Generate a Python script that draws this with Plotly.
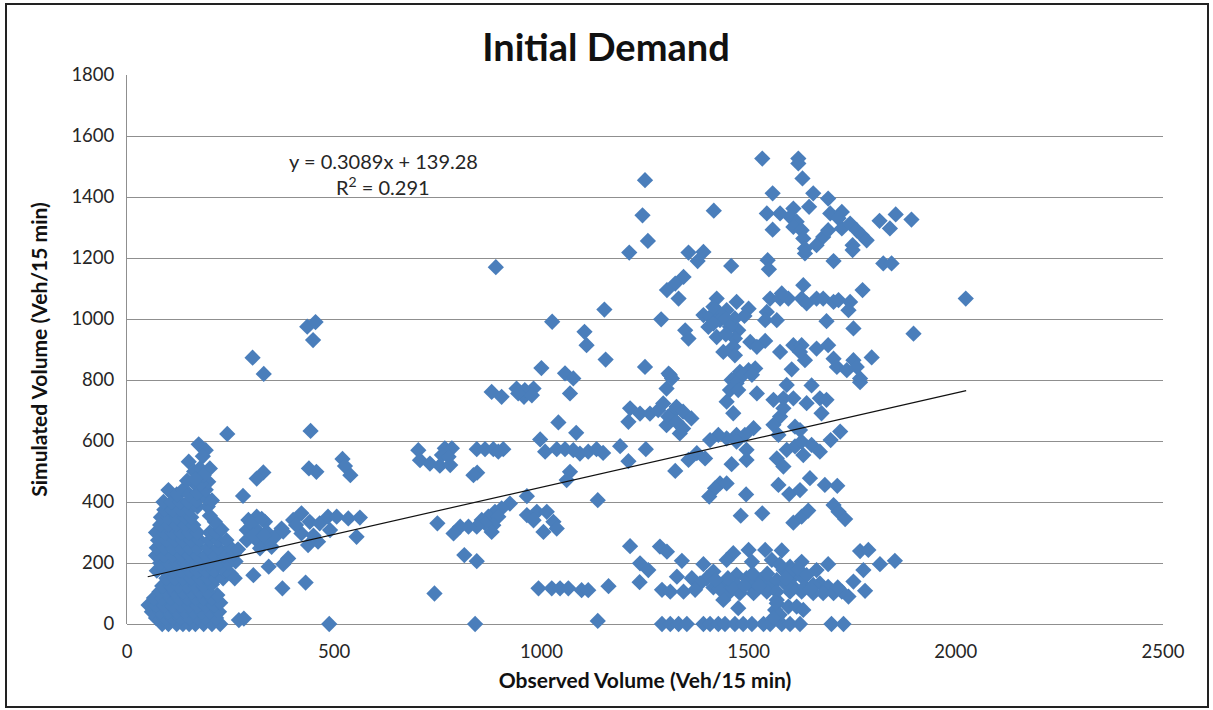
import plotly.graph_objects as go

# Values: (observed, simulated)
left_blob = [
 (85,0),(100,0),(120,0),(135,0),(150,0),(165,0),(185,0),(205,0),(225,0),
 (70,20),(90,20),(110,20),(130,20),(150,20),(170,20),(190,20),(215,20),
 (60,40),(80,40),(100,40),(120,40),(140,40),(160,40),(180,40),(200,40),(222,40),
 (52,62),(70,60),(90,60),(110,60),(130,60),(150,60),(170,60),(190,60),(210,60),(225,70),
 (65,85),(85,85),(105,85),(125,85),(145,85),(165,85),(185,85),(205,85),(218,95),
 (78,105),(95,105),(115,105),(135,105),(155,105),(175,105),(195,105),
 (85,125),(105,125),(125,125),(145,125),(165,125),(185,125),(205,130),
 (95,150),(115,150),(135,150),(155,150),(175,150),(195,150),(215,150),(232,150),
 (72,175),(90,175),(110,175),(130,175),(150,175),(170,175),(190,175),(210,175),(235,175),(250,165),
 (80,200),(100,200),(120,200),(140,200),(160,200),(180,200),(200,200),(220,200),(245,200),(262,205),
 (70,225),(90,225),(110,225),(130,225),(150,225),(170,225),(190,225),(210,225),(235,225),(258,230),
 (72,250),(90,250),(110,250),(130,250),(150,250),(170,250),(195,250),(220,250),(250,250),(268,245),
 (75,275),(95,275),(115,275),(135,275),(155,275),(175,275),(200,275),(220,275),(240,275),
 (70,300),(90,300),(110,300),(130,300),(150,300),(170,300),(200,300),(215,300),(228,310),
 (80,325),(100,325),(120,325),(140,325),(160,325),(212,335),
 (82,350),(100,350),(120,350),(140,350),(155,350),(200,355),
 (90,375),(110,375),(130,375),(150,375),(170,385),(195,385),
 (88,400),(108,400),(128,400),(148,400),(168,405),(190,415),(205,405),
 (100,439),(120,425),(135,440),(150,425),(170,430),(190,440),(196,466),(178,460),(160,465),(145,470),
 (149,532),(162,500),(176,510),(200,510),(185,488),(165,475),(173,589),(190,570),(183,550),
]
left_spread = [
 (303,873),(330,820),(449,931),(435,975),(455,990),(242,623),(443,633),(329,497),(313,477),
 (439,510),(457,499),(520,541),(526,518),(539,488),(280,420),(313,352),(293,341),(333,335),
 (289,308),(313,308),(337,302),(289,275),(313,275),(341,270),(321,248),(349,253),(357,286),
 (300,330),(325,345),(305,290),(330,290),(421,363),(401,341),(441,335),(465,330),(485,352),
 (506,352),(534,346),(562,349),(554,286),(437,259),(461,270),(421,297),(490,308),(373,313),
 (377,303),(389,215),(377,196),(342,188),(305,160),(375,117),(431,136),(488,0),(270,13),
 (282,18),(260,150),(408,325),(450,290),
]
middle = [
 (1152,1031),(1026,991),(1289,999),(1104,958),(1109,914),(1155,867),(1000,839),(1250,843),
 (1057,822),(1077,805),(1069,756),(880,761),(904,745),(890,1170),(940,772),(958,745),(981,772),
 (960,767),(944,756),(977,750),(1041,661),(1084,627),(997,605),(703,570),(767,576),(784,576),
 (844,573),(864,573),(884,573),(908,573),(896,565),(707,537),(731,526),(755,519),(780,521),
 (760,554),(776,548),(845,496),(836,488),(1009,565),(1037,573),(1057,573),(1077,570),(1093,559),
 (1113,565),(1133,573),(1149,561),(1190,583),(1252,573),(1210,534),(1069,499),(1061,472),
 (965,419),(1136,406),(924,395),(904,379),(888,368),(872,352),(856,341),(896,352),(884,324),
 (880,302),(864,330),(844,319),(824,319),(804,319),(788,297),(749,330),(965,357),(989,368),
 (1013,368),(1029,335),(1037,313),(1005,302),(981,340),(814,226),(844,206),(742,100),(840,0),
 (1136,10),(993,117),(1025,117),(1045,117),(1065,117),(1097,111),(1113,111),(1162,124),(1214,255),
 (1214,707),(1210,663),(1238,690),(1262,690),(1282,701),(1294,723),(1302,772),(1310,816),(1302,652),
 (1314,690),(1326,712),(1342,696),(1362,674),(1334,625),(1342,641),(1306,680),(1326,663),
]
upper = [
 (1533,1526),(1620,1526),(1620,1510),(1250,1455),(1630,1461),(1558,1412),(1656,1412),(1692,1395),
 (1646,1368),(1244,1340),(1416,1355),(1544,1346),(1576,1346),(1608,1362),(1600,1335),(1616,1319),
 (1608,1302),(1628,1291),(1558,1293),(1632,1264),(1636,1231),(1636,1215),(1664,1242),(1680,1269),
 (1692,1291),(1697,1346),(1725,1351),(1717,1330),(1725,1297),(1745,1313),(1761,1291),(1773,1275),
 (1785,1258),(1751,1242),(1751,1226),(1816,1322),(1855,1343),(1893,1326),(1841,1297),(1257,1256),
 (1212,1218),(1355,1218),(1391,1220),(1377,1190),(1458,1174),(1546,1193),(1549,1163),(1705,1190),
 (1825,1182),(1845,1182),(1343,1138),(1323,1116),(1303,1095),(1331,1067),(2024,1067),(1775,1095),
 (1632,1111),(1552,1067),(1576,1067),(1596,1067),(1580,1084),(1628,1067),(1640,1051),(1664,1067),
 (1680,1067),(1705,1056),(1717,1062),(1745,1056),(1741,1029),(1544,1023),(1540,996),(1568,996),
 (1688,993),(1753,969),(1898,952),(1347,963),(1355,936),(1423,1067),(1471,1056),(1500,1034),
 (1447,1029),(1427,1023),(1391,1013),(1407,1007),(1467,1002),(1431,996),(1403,974),(1423,941),
 (1475,963),(1467,936),(1463,909),(1439,892),(1467,881),(1504,925),(1540,928),(1520,909),(1576,892),
 (1608,914),(1628,914),(1636,865),(1624,892),(1664,903),(1692,914),(1705,870),(1713,843),(1737,832),
 (1753,865),(1761,843),(1797,874),(1604,835),(1307,821),(1315,805),(1479,827),(1500,832),(1516,838),
 (1467,805),(1769,805),(1415,1040),(1445,1000),(1455,975),(1415,985),(1490,1010),(1445,950),
]
lower = [
 (1769,793),(1520,756),(1459,800),(1471,789),(1455,767),(1475,767),(1447,729),(1487,817),(1508,817),
 (1463,691),(1560,735),(1592,784),(1652,782),(1584,740),(1608,740),(1640,724),(1672,740),(1688,735),
 (1676,691),(1576,680),(1560,653),(1584,707),(1612,647),(1572,620),(1721,631),(1698,603),(1512,642),
 (1491,620),(1471,620),(1447,609),(1427,620),(1407,603),(1471,598),(1375,560),(1355,538),(1395,543),
 (1495,571),(1495,538),(1459,524),(1323,502),(1592,571),(1568,543),(1584,516),(1612,582),(1628,598),
 (1632,554),(1652,587),(1672,565),(1624,636),(1431,461),(1447,461),(1419,445),(1405,418),(1494,425),
 (1572,456),(1598,426),(1624,439),(1648,478),(1684,456),(1714,453),(1481,355),(1533,363),(1608,332),
 (1628,352),(1644,372),(1705,390),(1717,368),(1733,344),(1286,254),(1303,237),(1339,207),(1238,199),
 (1258,177),(1237,137),(1463,232),(1500,243),(1540,243),(1580,241),(1447,210),(1508,204),(1556,210),
 (1769,239),(1789,243),(1777,177),(1817,196),(1853,207),(1692,196),(1628,204),(1600,188),(1391,196),
 (1664,177),(1291,112),(1327,155),(1363,150),(1415,172),(1399,150),(1471,161),(1495,150),(1528,144),
 (1383,133),(1439,133),(1471,128),(1508,122),(1552,133),(1568,144),(1608,155),(1628,155),(1672,133),
 (1692,122),(1753,139),(1781,109),(1741,90),(1311,106),(1343,106),(1371,112),(1447,95),(1439,79),
 (1479,101),(1512,101),(1544,106),(1568,106),(1600,106),(1628,106),(1656,101),(1680,101),(1705,101),
 (1725,106),(1608,122),(1636,122),(1656,128),(1568,79),(1564,46),(1568,68),(1596,57),(1616,57),
 (1632,46),(1475,52),(1584,177),(1600,170),(1620,180),(1640,160),(1415,120),(1430,115),(1460,120),
 (1490,125),(1525,125),(1590,130),(1650,115),(1715,120),(1291,0),(1311,0),(1331,0),(1351,0),(1391,0),
 (1407,0),(1427,0),(1443,0),(1467,0),(1487,0),(1508,0),(1536,0),(1552,0),(1580,0),(1600,0),(1624,0),
 (1700,0),(1729,0),(1575,30),(1560,20),(1590,150),(1575,195),(1450,150),(1420,145),(1510,165),(1545,165),
]
trend_x = [50, 2025]
trend_y = [155, 765]

x_ticks = [0, 500, 1000, 1500, 2000, 2500]
y_ticks = [0, 200, 400, 600, 800, 1000, 1200, 1400, 1600, 1800]

title_text = "Initial Demand"
x_title = "Observed Volume (Veh/15 min)"
y_title = "Simulated Volume (Veh/15 min)"
equation_text = "y = 0.3089x + 139.28"
r2_text = "R<sup>2</sup> = 0.291"

points = left_blob + left_spread + middle + upper + lower
observed = [p[0] for p in points]
simulated = [p[1] for p in points]

FONT = "Lato"
GRID = "#8f8f8f"
TEXT = "#262626"

fig = go.Figure()
fig.add_trace(go.Scatter(x=observed, y=simulated, mode="markers", cliponaxis=False,
                         marker=dict(symbol="diamond", size=12.5, color="#4a7ebb", line=dict(width=0)),
                         showlegend=False))
fig.add_trace(go.Scatter(x=trend_x, y=trend_y, mode="lines", line=dict(color="#111111", width=1.2),
                         showlegend=False))

fig.update_layout(
    width=1213, height=710, autosize=False,
    margin=dict(l=127, r=50, t=75, b=86),
    paper_bgcolor="white", plot_bgcolor="white",
    font=dict(family=FONT, size=15, color=TEXT),
    title=dict(text=f"<b>{title_text}</b>", x=606/1213, xanchor="center", y=1-48/710, yanchor="middle",
               font=dict(family=FONT, size=38, color="#111111")),
    xaxis=dict(range=[0, 2500], tickvals=x_ticks, showgrid=False, zeroline=False, showline=False,
               ticks="", tickfont=dict(size=18.5), ticklabelstandoff=14,
               title=dict(text=f"<b>{x_title}</b>", font=dict(size=21, color="#111111"), standoff=12)),
    yaxis=dict(range=[0, 1800], tickvals=y_ticks, showgrid=True, gridcolor=GRID, gridwidth=1,
               zeroline=True, zerolinecolor=GRID, zerolinewidth=1, showline=True, linecolor=GRID, linewidth=1,
               ticks="", tickfont=dict(size=18.5), ticklabelstandoff=8,
               title=dict(text=f"<b>{y_title}</b>", font=dict(size=21, color="#111111"), standoff=18)),
    shapes=[dict(type="rect", xref="paper", yref="paper", layer="below",
                 x0=-121/1036, x1=(1208-127)/1036, y0=-83/549, y1=(624-4)/549,
                 line=dict(color="#222222", width=2))],
    annotations=[
        dict(text=equation_text, xref="x", yref="y", x=618, y=1518, showarrow=False,
             font=dict(family=FONT, size=20, color=TEXT)),
        dict(text=r2_text, xref="x", yref="y", x=618, y=1436, showarrow=False,
             font=dict(family=FONT, size=20, color=TEXT)),
    ],
)

fig.write_html("out.html", config={"displayModeBar": False},
               post_script="document.body.style.margin='0';document.body.style.overflow='hidden';")
